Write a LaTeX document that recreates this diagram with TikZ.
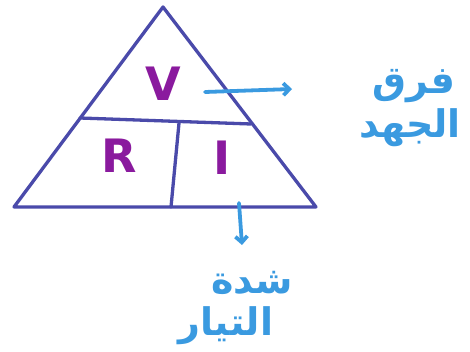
\documentclass[tikz,border=0pt]{standalone}
\usepackage{fontspec}
\setmainfont{DejaVu Sans}
\newfontfamily\arabicfont[Script=Arabic]{DejaVu Sans}
\TeXXeTstate=1
\usetikzlibrary{arrows.meta}
\definecolor{tri}{HTML}{4A4AAA}
\definecolor{let}{HTML}{8A1A9E}
\definecolor{ablue}{HTML}{3A9AE0}
\tikzset{
  triline/.style={draw=tri, line width=3.3pt, line cap=round, line join=round},
  letter/.style={text=let, font=\bfseries\fontsize{46}{46}\selectfont},
  arr/.style={draw=ablue, line width=3.8pt, line cap=round, -{Straight Barb[length=6pt,width=12pt]}},
  atext/.style={text=ablue, font=\arabicfont\bfseries\fontsize{38}{38}\selectfont, inner sep=0pt}
}
\begin{document}
\begin{tikzpicture}[x=1pt,y=-1pt]
\useasboundingbox (0,0) rectangle (470,352);
\coordinate (top) at (163,7);
\coordinate (bl) at (14,207);
\coordinate (br) at (316,207);
\coordinate (ml) at (80,118);
\coordinate (mr) at (251,124);
\coordinate (dt) at (179,123);
\coordinate (db) at (171,207);
\draw[triline] (top) -- (br) -- (bl) -- cycle;
\draw[triline] (ml) -- (mr);
\draw[triline] (dt) -- (db);
\node[letter] (V) at (163,84) {V};
\node[letter] (R) at (119,156) {R};
\node[letter] (I) at (222,158) {I};
\coordinate (a1s) at (205,92);
\coordinate (a1e) at (292,89);
\draw[arr] (a1s) -- (a1e);
\coordinate (a2s) at (239,203);
\coordinate (a2e) at (242,245);
\draw[arr] (a2s) -- (a2e);
\node[atext] (t1) at (414,86) {\beginR فرق\endR};
\node[atext] (t2) at (410,128) {\beginR الجهد\endR};
\node[atext] (t3) at (252,283) {\beginR شدة\endR};
\node[atext] (t4) at (226,326) {\beginR التيار\endR};
\end{tikzpicture}
\end{document}
